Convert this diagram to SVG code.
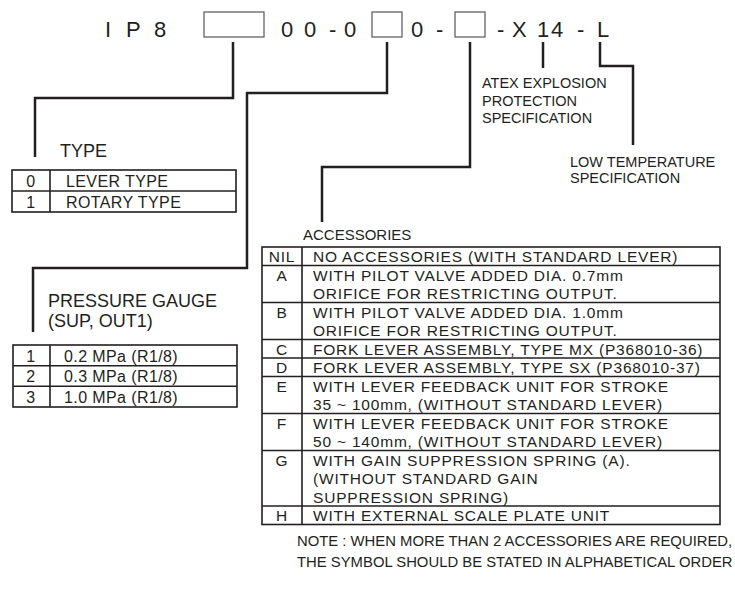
<svg xmlns="http://www.w3.org/2000/svg" width="735" height="597" viewBox="0 0 735 597">
<style>
text{font-family:"Liberation Sans",Arial,Helvetica,sans-serif;fill:#231f20}
.big{font-size:22px}
.lbl{font-size:18px}
.sm{font-size:14.5px}
.tb{font-size:15.5px;letter-spacing:0.8px}
.tt{font-size:16px;letter-spacing:0.4px}
.note{font-size:14.85px}
.c{text-anchor:middle}
.conn{fill:none;stroke:#231f20;stroke-width:2.5}
.box{fill:#fff;stroke:#555;stroke-width:1.2}
.tbl{fill:none;stroke:#231f20;stroke-width:1.6}
</style>
<rect width="735" height="597" fill="#fff"/>
<g id="connectors">
<polyline class="conn" points="233,42 233,98 35,98 35,157"/>
<polyline class="conn" points="387,42 387,93 247,93 247,268 33,268 33,332"/>
<polyline class="conn" points="470,42 470,167 322,167 322,222"/>
<polyline class="conn" points="543,42 543,68"/>
<polyline class="conn" points="600,42 600,66 633,66 633,145"/>
</g>
<g id="code">
<text class="big" x="105 116 126 145 154" y="37">I P 8</text>
<rect class="box" x="204" y="12" width="60" height="25"/>
<text class="big" x="281 293 304 318 329 338 344" y="37">0 0 - 0</text>
<rect class="box" x="372" y="12" width="30" height="25"/>
<text class="big" x="411 424 436" y="37">0 -</text>
<rect class="box" x="455" y="12" width="30" height="25"/>
<text class="big" x="497 505 512 530 537 551 566 577 588 597" y="37">- X 14 - L</text>
</g>
<g id="type">
<text class="lbl" x="60" y="157">TYPE</text>
<rect class="tbl" x="12" y="170" width="224" height="42"/>
<line class="tbl" x1="12" y1="191" x2="236" y2="191"/>
<line class="tbl" x1="50" y1="170" x2="50" y2="212"/>
<text class="tt c" x="31" y="187">0</text>
<text class="tt" x="66" y="187">LEVER TYPE</text>
<text class="tt c" x="31" y="208">1</text>
<text class="tt" x="66" y="208">ROTARY TYPE</text>
</g>
<g id="pressure">
<text class="lbl" x="48" y="307">PRESSURE GAUGE</text>
<text class="lbl" x="48" y="327">(SUP, OUT1)</text>
<rect class="tbl" x="13" y="345" width="224" height="62"/>
<line class="tbl" x1="13" y1="365.7" x2="237" y2="365.7"/>
<line class="tbl" x1="13" y1="386.3" x2="237" y2="386.3"/>
<line class="tbl" x1="50" y1="345" x2="50" y2="407"/>
<text class="tt c" x="31" y="361.5">1</text>
<text class="tt" x="64" y="361.5">0.2 MPa (R1/8)</text>
<text class="tt c" x="31" y="382">2</text>
<text class="tt" x="64" y="382">0.3 MPa (R1/8)</text>
<text class="tt c" x="31" y="402.5">3</text>
<text class="tt" x="64" y="402.5">1.0 MPa (R1/8)</text>
</g>
<g id="atex">
<text class="sm" x="482" y="88">ATEX EXPLOSION</text>
<text class="sm" x="482" y="106">PROTECTION</text>
<text class="sm" x="482" y="123">SPECIFICATION</text>
</g>
<g id="lowtemp">
<text class="sm" x="570" y="167">LOW TEMPERATURE</text>
<text class="sm" x="570" y="183">SPECIFICATION</text>
</g>
<g id="accessories">
<text class="lbl" style="font-size:15px" x="303" y="240">ACCESSORIES</text>
<rect class="tbl" x="262" y="247" width="458" height="277.5"/>
<line class="tbl" x1="302" y1="247" x2="302" y2="524.5"/>
<g class="tbl">
<line x1="262" y1="265.5" x2="720" y2="265.5"/>
<line x1="262" y1="302.5" x2="720" y2="302.5"/>
<line x1="262" y1="339.5" x2="720" y2="339.5"/>
<line x1="262" y1="358" x2="720" y2="358"/>
<line x1="262" y1="376.5" x2="720" y2="376.5"/>
<line x1="262" y1="413.5" x2="720" y2="413.5"/>
<line x1="262" y1="450.5" x2="720" y2="450.5"/>
<line x1="262" y1="506" x2="720" y2="506"/>
</g>
<text class="tb c" x="282" y="262">NIL</text>
<text class="tb" x="313" y="262">NO ACCESSORIES (WITH STANDARD LEVER)</text>
<text class="tb c" x="282" y="280.5">A</text>
<text class="tb" x="313" y="280.5">WITH PILOT VALVE ADDED DIA. 0.7mm</text>
<text class="tb" x="313" y="299">ORIFICE FOR RESTRICTING OUTPUT.</text>
<text class="tb c" x="282" y="317.5">B</text>
<text class="tb" x="313" y="317.5">WITH PILOT VALVE ADDED DIA. 1.0mm</text>
<text class="tb" x="313" y="336">ORIFICE FOR RESTRICTING OUTPUT.</text>
<text class="tb c" x="282" y="354.5">C</text>
<text class="tb" x="313" y="354.5">FORK LEVER ASSEMBLY, TYPE MX (P368010-36)</text>
<text class="tb c" x="282" y="373">D</text>
<text class="tb" x="313" y="373">FORK LEVER ASSEMBLY, TYPE SX (P368010-37)</text>
<text class="tb c" x="282" y="391.5">E</text>
<text class="tb" x="313" y="391.5">WITH LEVER FEEDBACK UNIT FOR STROKE</text>
<text class="tb" x="313" y="410">35 ~ 100mm, (WITHOUT STANDARD LEVER)</text>
<text class="tb c" x="282" y="428.5">F</text>
<text class="tb" x="313" y="428.5">WITH LEVER FEEDBACK UNIT FOR STROKE</text>
<text class="tb" x="313" y="447">50 ~ 140mm, (WITHOUT STANDARD LEVER)</text>
<text class="tb c" x="282" y="465.5">G</text>
<text class="tb" x="313" y="465.5">WITH GAIN SUPPRESSION SPRING (A).</text>
<text class="tb" x="313" y="484">(WITHOUT STANDARD GAIN</text>
<text class="tb" x="313" y="502.5">SUPPRESSION SPRING)</text>
<text class="tb c" x="282" y="521">H</text>
<text class="tb" x="313" y="521">WITH EXTERNAL SCALE PLATE UNIT</text>
<text class="note" x="297" y="546">NOTE : WHEN MORE THAN 2 ACCESSORIES ARE REQUIRED,</text>
<text class="note" x="297" y="567">THE SYMBOL SHOULD BE STATED IN ALPHABETICAL ORDER</text>
</g>
</svg>
